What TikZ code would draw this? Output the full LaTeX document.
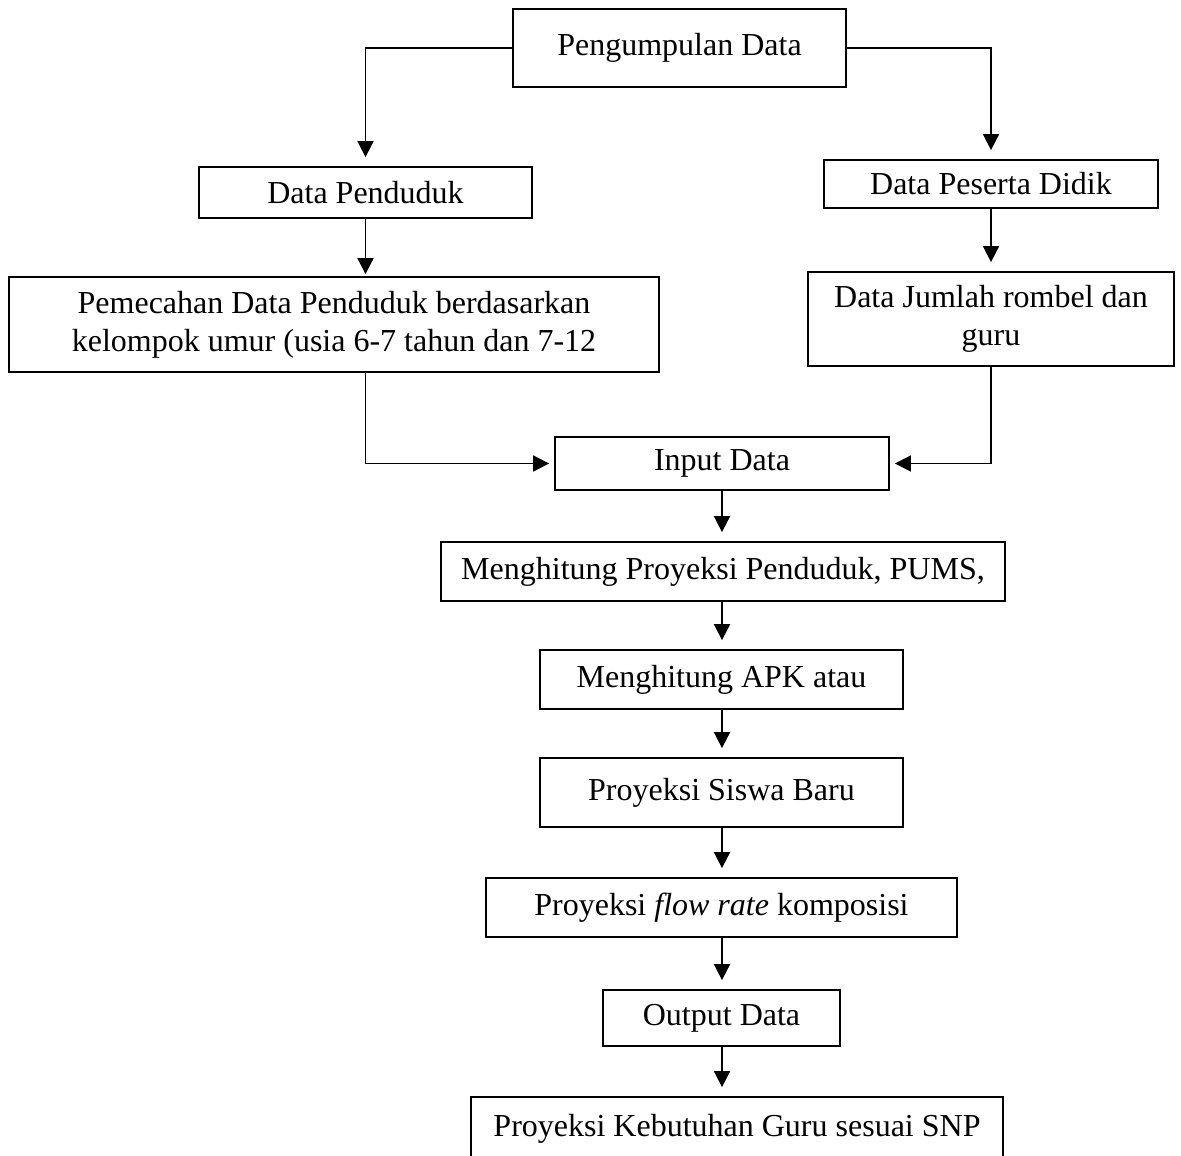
\documentclass[tikz,border=0pt]{standalone}
\usepackage{fontspec}
\setmainfont{Liberation Serif}
\usetikzlibrary{arrows.meta}

\begin{document}
\begin{tikzpicture}[x=0.5pt,y=-0.5pt,
  font=\fontsize{16}{19}\selectfont,
  box/.style={draw,line width=0.9pt,inner sep=0pt,align=center},
  arr/.style={draw,line width=0.9pt,-{Triangle[length=8pt,width=8pt]},shorten >=4.5pt},
]
\useasboundingbox (0,0) rectangle (1181,1155);
\node[box,minimum width=166.5pt,minimum height=39pt] (kumpul) at (679.5,48) {Pengumpulan Data};
\node[box,minimum width=166.5pt,minimum height=25.5pt] (penduduk) at (365.5,192.5) {Data Penduduk};
\node[box,minimum width=167pt,minimum height=24pt] (peserta) at (991,184) {Data Peserta Didik};
\node[box,minimum width=325pt,minimum height=47.5pt] (pecah) at (334,324.5)
  {Pemecahan Data Penduduk berdasarkan\\kelompok umur (usia 6-7 tahun dan 7-12};
\node[box,minimum width=183pt,minimum height=47pt] (rombel) at (991,319)
  {Data Jumlah rombel dan\\guru};

\node[box,minimum width=167pt,minimum height=26.5pt] (input) at (722,463.5) {Input Data};
\node[box,minimum width=282pt,minimum height=29.5pt] (hitungpend) at (723,571.5) {Menghitung Proyeksi Penduduk, PUMS,};
\node[box,minimum width=181.5pt,minimum height=29.5pt] (apk) at (721.5,679.5) {Menghitung APK atau};
\node[box,minimum width=181.5pt,minimum height=34.5pt] (siswa) at (721.5,792.5) {Proyeksi Siswa Baru};
\node[box,minimum width=235.5pt,minimum height=29.5pt] (flow) at (721.5,907.5) {Proyeksi \textit{flow rate} komposisi};
\node[box,minimum width=118.5pt,minimum height=28pt] (output) at (721.5,1018) {Output Data};
\node[box,minimum width=266pt,minimum height=31.5pt] (guru) at (737,1128.5) {Proyeksi Kebutuhan Guru sesuai SNP};

% cabang atas
\draw[arr] (kumpul.west) -| (penduduk.north);
\draw[arr] (kumpul.east) -| (peserta.north);
\draw[arr,shorten >=1pt] (penduduk.south) -- (penduduk |- pecah.north);
\draw[arr] (peserta.south) -- (rombel.north);
\draw[arr,shorten >=2.5pt] (pecah.south -| penduduk) |- (input.west);
\draw[arr,shorten >=2.5pt] (rombel.south) |- (input.east);

% alur ke bawah
\draw[arr] (input.south) -- (input.south |- hitungpend.north);
\draw[arr] (input.south |- hitungpend.south) -- (input.south |- apk.north);
\draw[arr] (input.south |- apk.south) -- (input.south |- siswa.north);
\draw[arr] (input.south |- siswa.south) -- (input.south |- flow.north);
\draw[arr] (input.south |- flow.south) -- (input.south |- output.north);
\draw[arr] (input.south |- output.south) -- (input.south |- guru.north);
\end{tikzpicture}
\end{document}
